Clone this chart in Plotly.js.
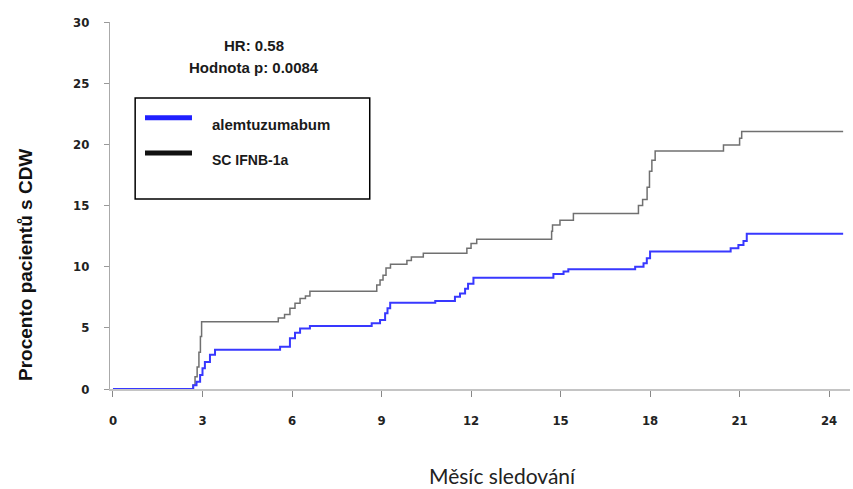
<!DOCTYPE html>
<html>
<head>
<meta charset="utf-8">
<script src="https://cdn.plot.ly/plotly-3.0.1.min.js"></script>
<style>html,body{margin:0;padding:0;background:#fff;}#chart{width:853px;height:489px;}</style>
</head>
<body>
<div id="chart"></div>
<script>
// Data (months, percent of patients with CDW)
const seriesNames = ["alemtuzumabum", "SC IFNB-1a"];
const ifnMonths = [0, 2.68, 2.75, 2.82, 2.88, 2.93, 2.97, 5.54, 5.75, 5.93, 6.1, 6.27, 6.45, 6.6, 8.84, 8.95, 9.05, 9.15, 9.3, 9.85, 10.0, 10.4, 11.86, 12.0, 12.19, 14.7, 14.73, 14.98, 15.43, 17.61, 17.75, 17.9, 17.98, 18.06, 18.17, 20.46, 21.0, 21.07, 24.47];
const ifnPct    = [0, 0.3, 1.0, 1.8, 3.0, 4.3, 5.5, 5.8, 6.1, 6.6, 7.0, 7.4, 7.6, 8.0, 8.5, 8.9, 9.3, 9.9, 10.2, 10.5, 10.8, 11.1, 11.5, 11.9, 12.25, 12.9, 13.4, 13.8, 14.35, 15.0, 15.5, 16.5, 17.8, 18.7, 19.45, 19.95, 20.5, 21.05, 21.05];
const alemMonths = [0, 2.69, 2.8, 2.92, 3.0, 3.08, 3.25, 3.42, 5.6, 5.93, 6.1, 6.27, 6.6, 8.67, 8.95, 9.12, 9.2, 9.29, 10.8, 11.46, 11.63, 11.8, 11.9, 12.08, 14.76, 15.1, 15.26, 17.5, 17.78, 17.89, 18.0, 20.7, 20.96, 21.13, 21.24, 24.47];
const alemPct    = [0, 0.3, 0.6, 1.15, 1.7, 2.2, 2.8, 3.2, 3.46, 4.14, 4.6, 4.95, 5.15, 5.37, 5.64, 6.19, 6.6, 7.06, 7.2, 7.55, 7.8, 8.2, 8.6, 9.1, 9.4, 9.6, 9.79, 10.0, 10.28, 10.69, 11.25, 11.5, 11.77, 12.1, 12.7, 12.7];
const xTicks = [0, 3, 6, 9, 12, 15, 18, 21, 24];
const yTicks = [0, 5, 10, 15, 20, 25, 30];
const statLines = ["HR: 0.58", "Hodnota p: 0.0084"];
const xTitle = "Měsíc sledování";
const yTitle = "Procento pacientů s CDW";

const tickFont = {family: "Liberation Sans Narrow, DejaVu Sans Condensed, Arial", size: 13, color: "#222", weight: 700};
const boldFont = (size) => ({family: "Liberation Sans, Arial", size: size, color: "#1a1a1a", weight: 700});

const traces = [
  {x: ifnMonths, y: ifnPct, type: "scatter", mode: "lines", name: seriesNames[1],
   line: {shape: "hv", color: "#707070", width: 1.5}, hoverinfo: "skip"},
  {x: alemMonths, y: alemPct, type: "scatter", mode: "lines", name: seriesNames[0],
   line: {shape: "hv", color: "#3838ff", width: 2}, hoverinfo: "skip"}
];

const layout = {
  width: 853, height: 489,
  margin: {l: 110, r: 3, t: 22, b: 100},
  paper_bgcolor: "#fff", plot_bgcolor: "#fff",
  showlegend: false,
  xaxis: {range: [-0.1, 24.7], tickvals: xTicks, ticktext: xTicks.map(String),
    ticks: "outside", ticklen: 6, tickcolor: "#888", tickwidth: 1,
    showline: true, linecolor: "#c4c4c4", linewidth: 2,
    showgrid: false, zeroline: false, tickfont: tickFont, ticklabelstandoff: 12},
  yaxis: {range: [0, 30], tickvals: yTicks, ticktext: yTicks.map(String),
    ticks: "outside", ticklen: 5, tickcolor: "#999", tickwidth: 1,
    showline: true, linecolor: "#aaa", linewidth: 1,
    showgrid: false, zeroline: false, tickfont: tickFont, ticklabelstandoff: 12},
  shapes: [
    {type: "rect", xref: "paper", yref: "paper", x0: 0.034, x1: 0.351, y0: 0.518, y1: 0.793,
     line: {color: "#000", width: 1.5}, fillcolor: "rgba(0,0,0,0)"},
    {type: "line", xref: "paper", yref: "paper", x0: 0.0473, x1: 0.1108, y0: 0.739, y1: 0.739,
     line: {color: "#2020ff", width: 5}},
    {type: "line", xref: "paper", yref: "paper", x0: 0.0473, x1: 0.1108, y0: 0.643, y1: 0.643,
     line: {color: "#111", width: 5}}
  ],
  annotations: [
    {text: seriesNames[0], xref: "paper", yref: "paper", x: 0.135, y: 0.721, xanchor: "left", yanchor: "middle",
     showarrow: false, font: boldFont(15)},
    {text: seriesNames[1], xref: "paper", yref: "paper", x: 0.135, y: 0.624, xanchor: "left", yanchor: "middle",
     showarrow: false, font: boldFont(14)},
    {text: statLines[0], xref: "paper", yref: "paper", x: 0.195, y: 0.937, xanchor: "center", yanchor: "middle",
     showarrow: false, font: boldFont(15)},
    {text: statLines[1], xref: "paper", yref: "paper", x: 0.195, y: 0.875, xanchor: "center", yanchor: "middle",
     showarrow: false, font: boldFont(15)},
    {text: yTitle, xref: "paper", yref: "paper", x: -0.1135, y: 0.338, xanchor: "center", yanchor: "middle",
     textangle: -90, showarrow: false, font: {family: "Liberation Sans, Arial", size: 19, color: "#111", weight: 700}},
    {text: xTitle, xref: "paper", yref: "paper", x: 0.53, y: -0.236, xanchor: "center", yanchor: "middle",
     showarrow: false, font: {family: "Lato, Open Sans, Arial", size: 21, color: "#222"}}
  ]
};

Plotly.newPlot("chart", traces, layout, {staticPlot: true, displayModeBar: false});
</script>
</body>
</html>
